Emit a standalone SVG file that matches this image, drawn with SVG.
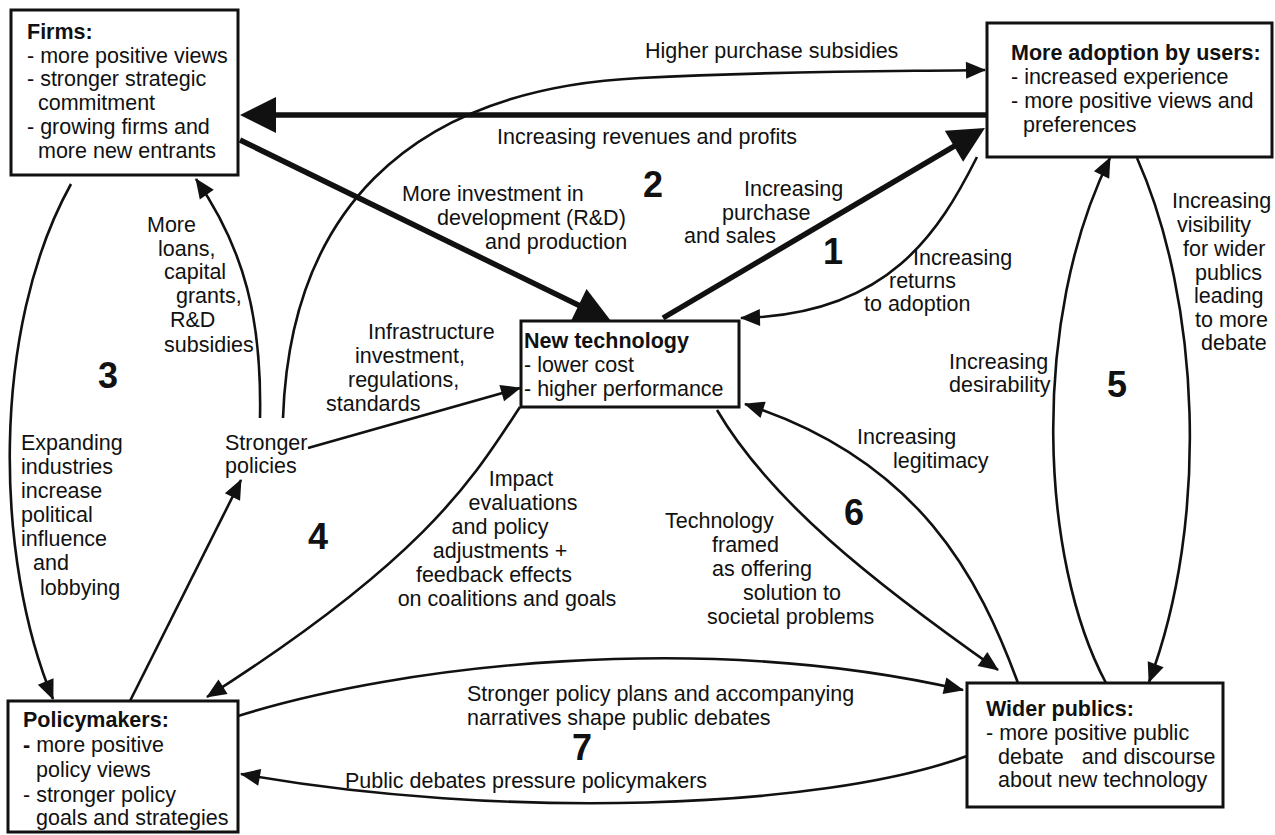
<svg xmlns="http://www.w3.org/2000/svg" width="1275" height="835" viewBox="0 0 1275 835">
<style>
  text { font-family: "Liberation Sans", Arial, sans-serif; font-size: 21.5px; fill: #111; }
  .b { font-weight: bold; }
  .num { font-weight: bold; font-size: 36px; text-anchor: middle; }
  .mid { text-anchor: middle; }
  .box { fill: #fff; stroke: #111; stroke-width: 3; }
  .thin { fill: none; stroke: #111; stroke-width: 2.6; marker-end: url(#ah); }
  .thick { fill: none; stroke: #111; stroke-width: 5.5; marker-end: url(#ahb); }
</style>
<defs>
  <marker id="ah" markerUnits="userSpaceOnUse" markerWidth="20" markerHeight="17" refX="19" refY="8.5" orient="auto" overflow="visible">
    <path d="M0,0 L20,8.5 L0,17 z" fill="#111"/>
  </marker>
  <marker id="ahb" markerUnits="userSpaceOnUse" markerWidth="36" markerHeight="36" refX="28" refY="18" orient="auto" overflow="visible">
    <path d="M0,0 L36,18 L0,36 z" fill="#111"/>
  </marker>
</defs>
<rect width="1275" height="835" fill="#fff"/>

<g id="connectors">
  <path class="thick" d="M986 115 L248 115"/>
  <path class="thick" d="M240 140 L603.8 317.5"/>
  <path class="thick" d="M663 318 L978.1 132.1"/>
  <path class="thin" d="M283 418 C 290 220, 400 90, 640 78 C 800 70, 900 71.5, 985 70"/>
  <path class="thin" d="M260 418 C 262 320, 245 250, 196 179"/>
  <path class="thin" d="M71 184 C -10 330, -5 560, 53 699"/>
  <path class="thin" d="M130 701 L241 480"/>
  <path class="thin" d="M308 448 L520 388"/>
  <path class="thin" d="M520 407 C 475 475, 430 555, 207 697"/>
  <path class="thin" d="M977 157 C 940 230, 890 315, 741 318"/>
  <path class="thin" d="M717 410 C 770 500, 870 580, 998 670"/>
  <path class="thin" d="M1018 683 C 980 580, 920 460, 745 404"/>
  <path class="thin" d="M1106 683 C 1040 560, 1030 320, 1110 158"/>
  <path class="thin" d="M1137 158 C 1200 300, 1210 520, 1149 682"/>
  <path class="thin" d="M238 716 C 400 665, 700 630, 963 690"/>
  <path class="thin" d="M967 756 C 820 810, 500 820, 241 774"/>
</g>

<g id="labels">
  <text x="645" y="58">Higher purchase subsidies</text>
  <text x="497" y="144">Increasing revenues and profits</text>
  <text x="402" y="201">More investment in</text>
  <text x="437" y="225">development (R&amp;D)</text>
  <text x="485" y="249">and production</text>
  <text x="744" y="196">Increasing</text>
  <text x="722" y="220">purchase</text>
  <text x="684" y="243">and sales</text>
  <text x="913" y="265">Increasing</text>
  <text x="889" y="288">returns</text>
  <text x="864" y="311">to adoption</text>
  <text x="147" y="232">More</text>
  <text x="158" y="256">loans,</text>
  <text x="164" y="279">capital</text>
  <text x="176" y="303">grants,</text>
  <text x="170" y="327">R&amp;D</text>
  <text x="164" y="352">subsidies</text>
  <text x="21" y="450">Expanding</text>
  <text x="21" y="474">industries</text>
  <text x="21" y="498">increase</text>
  <text x="21" y="522">political</text>
  <text x="21" y="546">influence</text>
  <text x="33" y="570">and</text>
  <text x="40" y="595">lobbying</text>
  <text x="225" y="450">Stronger</text>
  <text x="225" y="473">policies</text>
  <text x="368" y="339">Infrastructure</text>
  <text x="355" y="363">investment,</text>
  <text x="348" y="387">regulations,</text>
  <text x="326" y="411">standards</text>
  <text class="mid" x="521" y="486">Impact</text>
  <text class="mid" x="523" y="510">evaluations</text>
  <text class="mid" x="500" y="534">and policy</text>
  <text class="mid" x="500" y="558">adjustments +</text>
  <text class="mid" x="494" y="582">feedback effects</text>
  <text class="mid" x="507" y="606">on coalitions and goals</text>
  <text x="665" y="528">Technology</text>
  <text x="712" y="552">framed</text>
  <text x="712" y="576">as offering</text>
  <text x="743" y="600">solution to</text>
  <text x="707" y="624">societal problems</text>
  <text x="857" y="444">Increasing</text>
  <text x="893" y="468">legitimacy</text>
  <text x="949" y="369">Increasing</text>
  <text x="949" y="392">desirability</text>
  <text x="1172" y="208">Increasing</text>
  <text x="1177" y="232">visibility</text>
  <text x="1183" y="256">for wider</text>
  <text x="1195" y="280">publics</text>
  <text x="1194" y="303">leading</text>
  <text x="1195" y="327">to more</text>
  <text x="1201" y="350">debate</text>
  <text x="467" y="701">Stronger policy plans and accompanying</text>
  <text x="467" y="725">narratives shape public debates</text>
  <text x="345" y="788">Public debates pressure policymakers</text>
  <text class="num" x="833" y="264">1</text>
  <text class="num" x="653" y="197">2</text>
  <text class="num" x="108" y="388">3</text>
  <text class="num" x="318" y="549">4</text>
  <text class="num" x="1117" y="397">5</text>
  <text class="num" x="854" y="525">6</text>
  <text class="num" x="582" y="760">7</text>
</g>

<g id="firms">
  <rect class="box" x="11" y="10" width="227" height="165"/>
  <text class="b" x="27" y="39">Firms:</text>
  <text x="27" y="62.5">- more positive views</text>
  <text x="27" y="86">- stronger strategic</text>
  <text x="38" y="110">commitment</text>
  <text x="27" y="134">- growing firms and</text>
  <text x="38" y="158">more new entrants</text>
</g>

<g id="adoption">
  <rect class="box" x="987" y="23" width="285" height="134"/>
  <text class="b" x="1011" y="60">More adoption by users:</text>
  <text x="1011" y="84">- increased experience</text>
  <text x="1011" y="108">- more positive views and</text>
  <text x="1023" y="132">preferences</text>
</g>

<g id="new-technology">
  <rect class="box" x="521" y="321" width="218" height="86"/>
  <text class="b" x="524" y="348">New technology</text>
  <text x="524" y="372">- lower cost</text>
  <text x="524" y="396">- higher performance</text>
</g>

<g id="policymakers">
  <rect class="box" x="8" y="701" width="230" height="131"/>
  <text class="b" x="23" y="727">Policymakers:</text>
  <text x="23" y="752"><tspan class="b">-</tspan> more positive</text>
  <text x="36" y="777">policy views</text>
  <text x="23" y="802">- stronger policy</text>
  <text x="36" y="825">goals and strategies</text>
</g>

<g id="wider-publics">
  <rect class="box" x="967" y="683" width="256" height="124"/>
  <text class="b" x="986" y="716">Wider publics:</text>
  <text x="986" y="740">- more positive public</text>
  <text x="998" y="764" xml:space="preserve">debate   and discourse</text>
  <text x="998" y="787">about new technology</text>
</g>
</svg>
